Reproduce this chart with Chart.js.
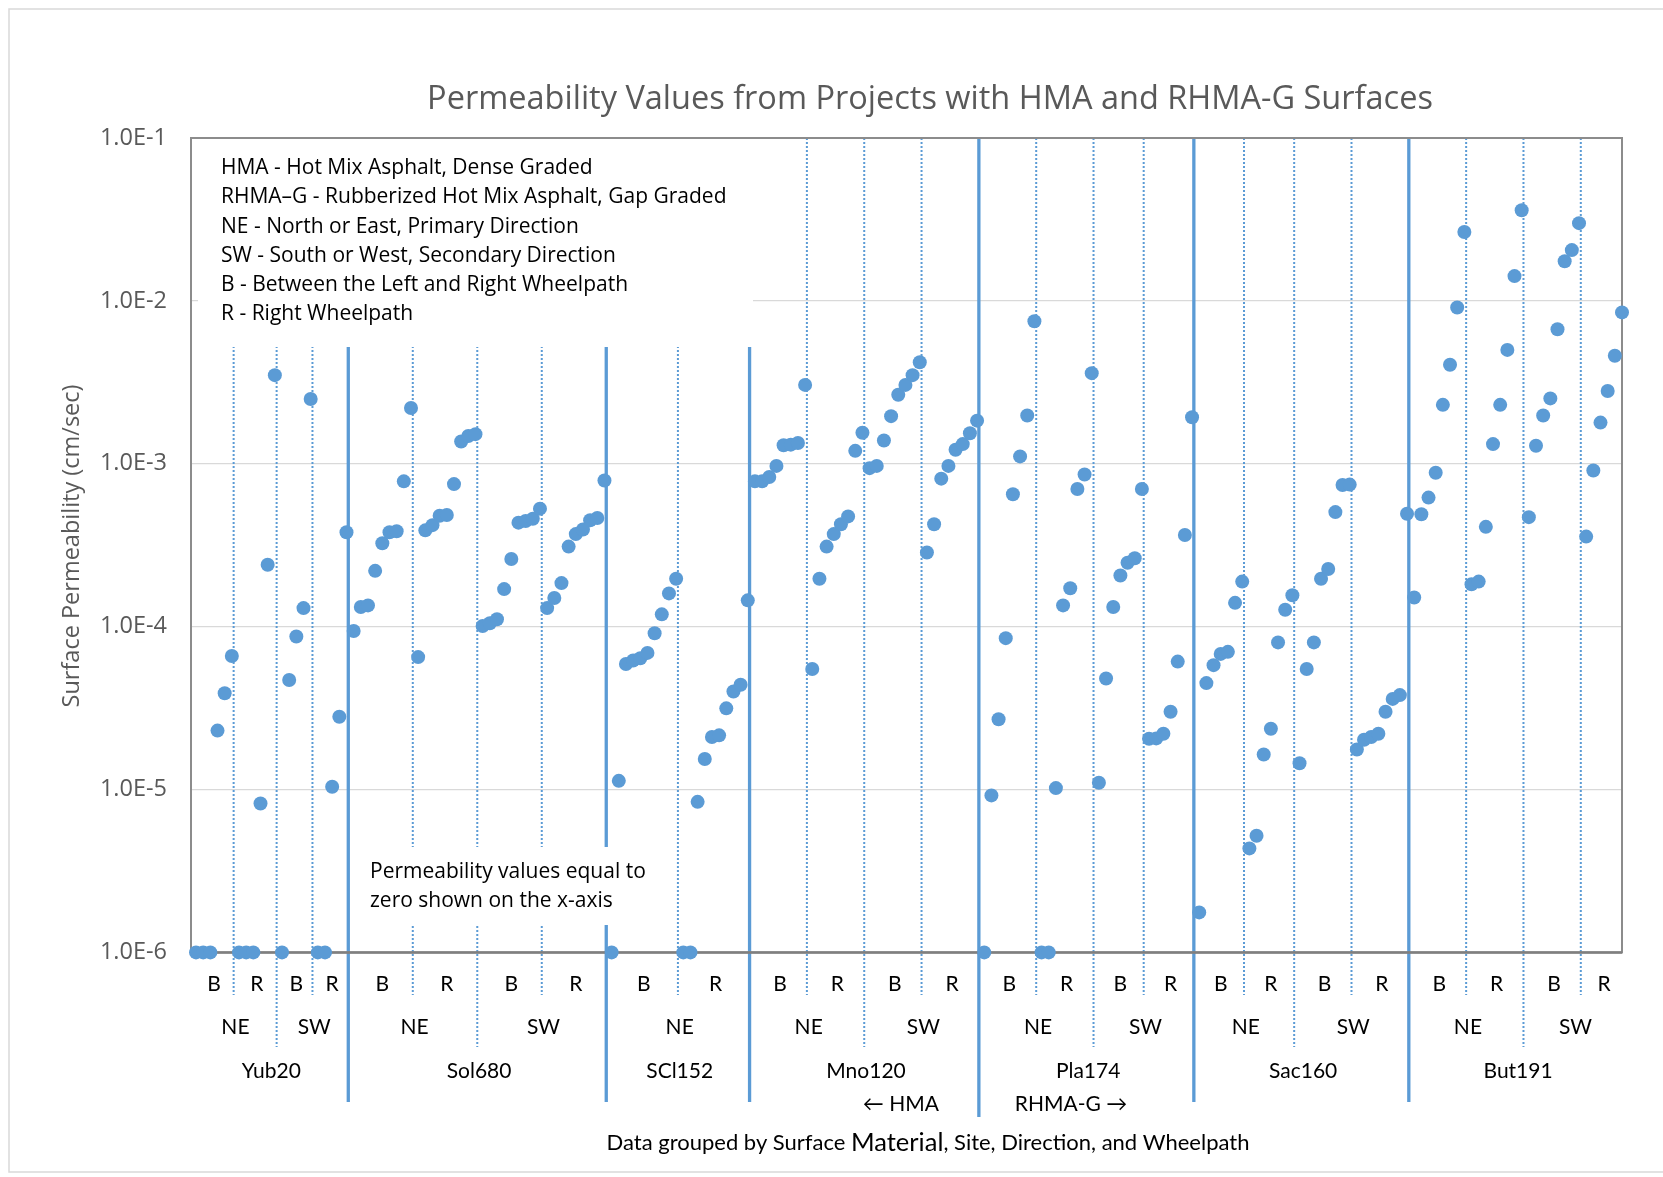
<!DOCTYPE html>
<html lang="en">
<head>
<meta charset="UTF-8">
<title>Permeability Values from Projects with HMA and RHMA-G Surfaces</title>
<script src="https://cdn.jsdelivr.net/npm/chart.js"></script>
<style>
    body { margin: 0; background: #fff; }
</style>
</head>
<body>
<canvas id="permChart" width="1663" height="1177"></canvas>

<script>
    // sites in plotting order, and the surface of each
    const sites = ['Yub20', 'Sol680', 'SCl152', 'Mno120', 'Pla174', 'Sac160', 'But191'];
    const materials = ['HMA', 'HMA', 'HMA', 'HMA', 'RHMA-G', 'RHMA-G', 'RHMA-G'];
    const yTicks = [1e-1, 1e-2, 1e-3, 1e-4, 1e-5, 1e-6];
    const zeroLevel = 1e-6; // zero readings are drawn on the x-axis

    // surface permeability, cm/sec (0 = measured zero)
    const yub20_NE_B = [0, 0, 0, 2.3e-5, 3.9e-5, 6.6e-5];
    const yub20_NE_R = [0, 0, 0, 8.2e-6, 2.4e-4, 3.5e-3];
    const yub20_SW_B = [0, 4.7e-5, 8.7e-5, 1.3e-4, 2.5e-3];
    const yub20_SW_R = [0, 0, 1.04e-5, 2.8e-5, 3.8e-4];

    const sol680_NE_B = [9.4e-5, 1.32e-4, 1.35e-4, 2.2e-4, 3.25e-4, 3.8e-4, 3.85e-4, 7.8e-4, 2.2e-3];
    const sol680_NE_R = [6.5e-5, 3.9e-4, 4.2e-4, 4.8e-4, 4.85e-4, 7.5e-4, 1.37e-3, 1.48e-3, 1.52e-3];
    const sol680_SW_B = [1.01e-4, 1.05e-4, 1.11e-4, 1.7e-4, 2.6e-4, 4.35e-4, 4.45e-4, 4.6e-4, 5.3e-4];
    const sol680_SW_R = [1.3e-4, 1.5e-4, 1.85e-4, 3.1e-4, 3.7e-4, 3.95e-4, 4.5e-4, 4.65e-4, 7.9e-4];

    const scl152_NE_B = [0, 1.13e-5, 5.9e-5, 6.2e-5, 6.4e-5, 6.9e-5, 9.1e-5, 1.19e-4, 1.6e-4, 1.97e-4];
    const scl152_NE_R = [0, 0, 8.4e-6, 1.54e-5, 2.1e-5, 2.15e-5, 3.15e-5, 4.0e-5, 4.4e-5, 1.45e-4];

    const mno120_NE_B = [7.8e-4, 7.8e-4, 8.3e-4, 9.7e-4, 1.3e-3, 1.31e-3, 1.34e-3, 3.05e-3];
    const mno120_NE_R = [5.5e-5, 1.97e-4, 3.1e-4, 3.7e-4, 4.25e-4, 4.75e-4, 1.2e-3, 1.55e-3];
    const mno120_SW_B = [9.4e-4, 9.7e-4, 1.39e-3, 1.96e-3, 2.65e-3, 3.05e-3, 3.5e-3, 4.2e-3];
    const mno120_SW_R = [2.85e-4, 4.25e-4, 8.1e-4, 9.7e-4, 1.22e-3, 1.32e-3, 1.54e-3, 1.84e-3];

    const pla174_NE_B = [0, 9.2e-6, 2.7e-5, 8.5e-5, 6.5e-4, 1.11e-3, 1.98e-3, 7.5e-3];
    const pla174_NE_R = [0, 0, 1.02e-5, 1.35e-4, 1.72e-4, 7.0e-4, 8.6e-4, 3.6e-3];
    const pla174_SW_B = [1.1e-5, 4.8e-5, 1.32e-4, 2.06e-4, 2.47e-4, 2.63e-4, 7.0e-4];
    const pla174_SW_R = [2.05e-5, 2.06e-5, 2.2e-5, 3.0e-5, 6.1e-5, 3.65e-4, 1.93e-3];

    const sac160_NE_B = [1.76e-6, 4.5e-5, 5.8e-5, 6.8e-5, 7.0e-5, 1.4e-4, 1.89e-4];
    const sac160_NE_R = [4.35e-6, 5.2e-6, 1.64e-5, 2.36e-5, 8.0e-5, 1.27e-4, 1.56e-4];
    const sac160_SW_B = [1.45e-5, 5.5e-5, 8.0e-5, 1.97e-4, 2.26e-4, 5.05e-4, 7.4e-4, 7.45e-4];
    const sac160_SW_R = [1.76e-5, 2.02e-5, 2.1e-5, 2.2e-5, 3.0e-5, 3.6e-5, 3.8e-5, 4.93e-4];

    const but191_NE_B = [1.51e-4, 4.9e-4, 6.2e-4, 8.8e-4, 2.3e-3, 4.05e-3, 9.1e-3, 2.65e-2];
    const but191_NE_R = [1.82e-4, 1.89e-4, 4.1e-4, 1.32e-3, 2.3e-3, 5.0e-3, 1.42e-2, 3.6e-2];
    const but191_SW_B = [4.7e-4, 1.29e-3, 1.98e-3, 2.52e-3, 6.7e-3, 1.75e-2, 2.05e-2, 3.0e-2];
    const but191_SW_R = [3.57e-4, 9.1e-4, 1.79e-3, 2.8e-3, 4.6e-3, 8.5e-3];

    const groups = [
        ['Yub20', 'NE', 'B', yub20_NE_B], ['Yub20', 'NE', 'R', yub20_NE_R],
        ['Yub20', 'SW', 'B', yub20_SW_B], ['Yub20', 'SW', 'R', yub20_SW_R],
        ['Sol680', 'NE', 'B', sol680_NE_B], ['Sol680', 'NE', 'R', sol680_NE_R],
        ['Sol680', 'SW', 'B', sol680_SW_B], ['Sol680', 'SW', 'R', sol680_SW_R],
        ['SCl152', 'NE', 'B', scl152_NE_B], ['SCl152', 'NE', 'R', scl152_NE_R],
        ['Mno120', 'NE', 'B', mno120_NE_B], ['Mno120', 'NE', 'R', mno120_NE_R],
        ['Mno120', 'SW', 'B', mno120_SW_B], ['Mno120', 'SW', 'R', mno120_SW_R],
        ['Pla174', 'NE', 'B', pla174_NE_B], ['Pla174', 'NE', 'R', pla174_NE_R],
        ['Pla174', 'SW', 'B', pla174_SW_B], ['Pla174', 'SW', 'R', pla174_SW_R],
        ['Sac160', 'NE', 'B', sac160_NE_B], ['Sac160', 'NE', 'R', sac160_NE_R],
        ['Sac160', 'SW', 'B', sac160_SW_B], ['Sac160', 'SW', 'R', sac160_SW_R],
        ['But191', 'NE', 'B', but191_NE_B], ['But191', 'NE', 'R', but191_NE_R],
        ['But191', 'SW', 'B', but191_SW_B], ['But191', 'SW', 'R', but191_SW_R]
    ];

    const legendLines = [
        'HMA - Hot Mix Asphalt, Dense Graded',
        'RHMA\u2013G - Rubberized Hot Mix Asphalt, Gap Graded',
        'NE - North or East, Primary Direction',
        'SW - South or West, Secondary Direction',
        'B - Between the Left and Right Wheelpath',
        'R - Right Wheelpath'
    ];
    const noteLines = ['Permeability values equal to', 'zero shown on the x-axis'];

    // one point per test, numbered along the x axis
    const points = [];
    const spans = [];
    let idx = 1;
    groups.forEach(([site, dir, wp, vals]) => {
        const first = idx;
        vals.forEach(v => points.push({x: idx++, y: v > 0 ? v : zeroLevel}));
        spans.push({site, dir, wp, first, last: idx - 1});
    });

    function mergeSpans(keyFn) {
        const out = [];
        spans.forEach(s => {
            const key = keyFn(s);
            const prev = out[out.length - 1];
            if (prev && prev.key === key) prev.last = s.last;
            else out.push({key, label: key.split('|').pop(), first: s.first, last: s.last});
        });
        return out;
    }
    const dirSpans = mergeSpans(s => s.site + '|' + s.dir);
    const siteSpans = mergeSpans(s => s.site);

    const BLUE = '#5B9BD5';
    const GREY = '#595959';

    const decorations = {
        id: 'decorations',
        beforeDatasetsDraw(chart) {
            const {ctx, chartArea: area, scales: {x}} = chart;
            ctx.save();

            // group separators
            for (let i = 1; i < spans.length; i++) {
                const prev = spans[i - 1], cur = spans[i];
                const px = x.getPixelForValue(prev.last + 0.25);
                let bottom, width, dash;
                if (prev.site !== cur.site) {
                    const matChange = materials[sites.indexOf(prev.site)] !== materials[sites.indexOf(cur.site)];
                    bottom = matChange ? 1117 : 1102;
                    width = 3.3;
                    dash = [];
                } else {
                    bottom = prev.dir !== cur.dir ? 1047 : 995;
                    width = 2;
                    dash = [2, 2];
                }
                ctx.beginPath();
                ctx.setLineDash(dash);
                ctx.lineWidth = width;
                ctx.strokeStyle = BLUE;
                ctx.moveTo(px, area.top);
                ctx.lineTo(px, bottom);
                ctx.stroke();
            }
            ctx.setLineDash([]);

            // white text boxes sitting over the plot
            ctx.fillStyle = '#fff';
            ctx.fillRect(198, area.top + 1, 555, 346 - area.top);
            ctx.fillRect(355, 847, 317, 78);

            // plot frame
            ctx.strokeStyle = '#8C8C8C';
            ctx.lineWidth = 2;
            ctx.strokeRect(area.left, area.top, area.right - area.left, area.bottom - area.top);
            ctx.beginPath();
            ctx.strokeStyle = '#7F7F7F';
            ctx.lineWidth = 2.5;
            ctx.moveTo(area.left, area.bottom);
            ctx.lineTo(area.right, area.bottom);
            ctx.stroke();
            ctx.restore();
        },
        afterDraw(chart) {
            const {ctx, scales: {x}} = chart;
            const mid = s => x.getPixelForValue((s.first + s.last) / 2);
            ctx.save();

            // outer chart border
            ctx.strokeStyle = '#D9D9D9';
            ctx.lineWidth = 1.5;
            ctx.strokeRect(9, 9, 1700, 1163);

            ctx.textBaseline = 'middle';

            // title
            ctx.fillStyle = GREY;
            ctx.textAlign = 'center';
            ctx.font = '32.5px "Open Sans"';
            ctx.fillText('Permeability Values from Projects with HMA and RHMA-G Surfaces', 930, 100);

            // y axis title
            ctx.save();
            ctx.translate(72, 546);
            ctx.rotate(-Math.PI / 2);
            ctx.font = '23.5px "Open Sans"';
            ctx.fillText('Surface Permeability (cm/sec)', 0, 0);
            ctx.restore();

            // explanation boxes
            ctx.fillStyle = '#000';
            ctx.textAlign = 'left';
            ctx.font = '21px "Open Sans"';
            legendLines.forEach((t, i) => ctx.fillText(t, 221, 168 + i * 29.3));
            noteLines.forEach((t, i) => ctx.fillText(t, 370, 872 + i * 28.7));

            // multi-level category labels
            ctx.textAlign = 'center';
            ctx.font = '21px Lato';
            spans.forEach(s => ctx.fillText(s.wp, mid(s), 984));
            dirSpans.forEach(s => ctx.fillText(s.label, mid(s), 1027));
            siteSpans.forEach(s => ctx.fillText(s.label, mid(s), 1071));

            // material boundary arrows
            const mIdx = materials.indexOf('RHMA-G');
            const boundary = spans.find(s => s.site === sites[mIdx]).first;
            const bx = x.getPixelForValue(boundary - 0.75);
            ctx.textAlign = 'right';
            ctx.fillText('\u2190 HMA', bx - 40, 1104);
            ctx.textAlign = 'left';
            ctx.fillText('RHMA-G \u2192', bx + 36, 1104);

            // axis caption, "Material" is a touch larger in the original
            const parts = [['Data grouped by Surface ', 22], ['Material', 25.5], [', Site, Direction, and Wheelpath', 22]];
            let total = 0;
            parts.forEach(([t, size]) => { ctx.font = size + 'px Lato'; total += ctx.measureText(t).width; });
            let cx = 928 - total / 2;
            parts.forEach(([t, size]) => {
                ctx.font = size + 'px Lato';
                ctx.fillText(t, cx, 1143);
                cx += ctx.measureText(t).width;
            });
            ctx.restore();
        }
    };

    new Chart(document.getElementById('permChart'), {
        type: 'scatter',
        data: {
            datasets: [{
                data: points,
                backgroundColor: BLUE,
                borderWidth: 0,
                pointRadius: 7,
                pointHoverRadius: 7,
                clip: false
            }]
        },
        options: {
            responsive: false,
            animation: false,
            events: [],
            layout: {padding: {left: 0, top: 138, right: 41, bottom: 224.6}},
            plugins: {legend: {display: false}, tooltip: {enabled: false}},
            scales: {
                x: {
                    type: 'linear',
                    min: 0.3,
                    max: points.length,
                    display: false
                },
                y: {
                    type: 'logarithmic',
                    min: yTicks[yTicks.length - 1],
                    max: yTicks[0],
                    afterBuildTicks: scale => { scale.ticks = yTicks.map(v => ({value: v})); },
                    afterFit: scale => { scale.width = 191; },
                    border: {display: false},
                    grid: {color: '#D9D9D9', lineWidth: 1.3, drawTicks: false},
                    ticks: {
                        padding: 24,
                        color: GREY,
                        font: {family: 'Open Sans', size: 23.5},
                        callback: v => Number(v).toExponential(1).toUpperCase()
                    }
                }
            }
        },
        plugins: [decorations]
    });
</script>
</body>
</html>
